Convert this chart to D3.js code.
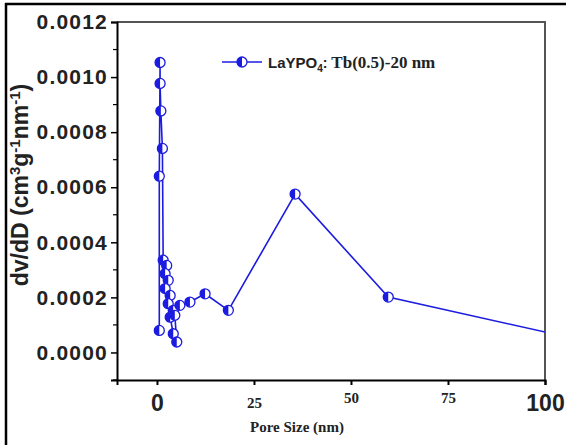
<!DOCTYPE html>
<html>
<head>
<meta charset="utf-8">
<script src="https://cdn.jsdelivr.net/npm/d3@7"></script>
<style>
  body { margin: 0; background: #fff; }
  svg { display: block; }
</style>
</head>
<body>
<div id="chart"></div>
<script>
// pore size distribution
const poreSize = [0.6, 0.6, 0.8, 0.8, 1.0, 1.4, 1.6, 2.5, 2.1, 2.9, 2.1, 3.4, 2.9, 4.2, 3.4, 4.2, 5.1, 4.6, 5.9, 8.5, 12.4, 18.4, 35.6, 59.6, 110];
const dvdD = [0.000080, 0.000640, 0.001053, 0.000977, 0.000877, 0.000741, 0.000335, 0.000316, 0.000286, 0.000262,
              0.000232, 0.000207, 0.000177, 0.000153, 0.000128, 0.000068, 0.000038, 0.000135, 0.000171, 0.000183,
              0.000213, 0.000153, 0.000575, 0.000201, 0.000043];

const xTicks = [0, 25, 50, 75, 100];
const yTicks = [0, 0.0002, 0.0004, 0.0006, 0.0008, 0.0010, 0.0012];
const yMinor = [-0.0001, 0.0001, 0.0003, 0.0005, 0.0007, 0.0009, 0.0011];

const w = 566, h = 445;
const blue = "#1c1ce0";

const svg = d3.select("#chart").append("svg")
  .attr("width", w)
  .attr("height", h);

// outer frame of the figure
svg.append("line").attr("x1", 6).attr("x2", 6).attr("y1", 3).attr("y2", h).attr("stroke", "#000").attr("stroke-width", 2.5);
svg.append("line").attr("x1", 5).attr("x2", w).attr("y1", 4).attr("y2", 4).attr("stroke", "#000").attr("stroke-width", 2.5);

const x = d3.scaleLinear().domain([-10.3, 100]).range([117, 545]);
const y = d3.scaleLinear().domain([-0.0001, 0.0012]).range([380, 22]);

// top / right frame (greyish in the picture)
svg.append("line").attr("x1", 117).attr("x2", 546).attr("y1", 22).attr("y2", 22).attr("stroke", "#555").attr("stroke-width", 2);
svg.append("line").attr("x1", 545).attr("x2", 545).attr("y1", 21).attr("y2", 380).attr("stroke", "#555").attr("stroke-width", 2);

// y axis
const yAxis = svg.append("g")
  .attr("transform", "translate(117,0)")
  .call(d3.axisLeft(y).tickValues(yTicks).tickFormat(d3.format(".4f")).tickSize(6).tickPadding(3));
yAxis.select(".domain").attr("stroke-width", 2);
yAxis.selectAll(".tick line").attr("stroke-width", 1.5);
yAxis.selectAll(".tick text")
  .attr("font-family", "Liberation Sans, Arial, sans-serif")
  .attr("font-weight", "bold")
  .attr("font-size", 21)
  .attr("letter-spacing", 1.2)
  .attr("fill", "#222");

svg.append("g")
  .attr("transform", "translate(117,0)")
  .selectAll("line")
  .data(yMinor)
  .join("line")
  .attr("x1", -4).attr("x2", 0)
  .attr("y1", d => y(d)).attr("y2", d => y(d))
  .attr("stroke", "#000").attr("stroke-width", 1.2);

// x axis
const xAxis = svg.append("g")
  .attr("transform", "translate(0,380)")
  .call(d3.axisBottom(x).tickValues(xTicks).tickSize(5).tickFormat(d => d));
xAxis.select(".domain").attr("stroke-width", 2);
xAxis.selectAll(".tick line").attr("stroke-width", 2);
xAxis.selectAll(".tick text")
  .attr("y", null)
  .attr("dy", null)
  .attr("fill", "#222")
  .attr("font-weight", "bold")
  .each(function(d) {
    const t = d3.select(this);
    if (d === 0 || d === 100) {
      t.attr("font-family", "Liberation Sans, Arial, sans-serif").attr("font-size", 23).attr("y", 31);
    } else {
      t.attr("font-family", "Liberation Serif, Times New Roman, serif").attr("font-size", 15)
       .attr("y", d === 25 ? 28 : 23);
    }
  });

svg.append("text")
  .attr("x", 297).attr("y", 432)
  .attr("text-anchor", "middle")
  .attr("font-family", "Liberation Serif, Times New Roman, serif")
  .attr("font-weight", "bold")
  .attr("font-size", 15)
  .attr("fill", "#222")
  .text("Pore Size (nm)");

// y title
const yt = svg.append("text")
  .attr("transform", "translate(28,185) rotate(-90)")
  .attr("text-anchor", "middle")
  .attr("font-family", "Liberation Sans, Arial, sans-serif")
  .attr("font-weight", "bold")
  .attr("font-size", 23)
  .attr("fill", "#222");
yt.append("tspan").text("dv/dD (cm");
yt.append("tspan").attr("font-size", 15).attr("baseline-shift", "super").text("3");
yt.append("tspan").text("g");
yt.append("tspan").attr("font-size", 15).attr("baseline-shift", "super").text("-1");
yt.append("tspan").text("nm");
yt.append("tspan").attr("font-size", 15).attr("baseline-shift", "super").text("-1");
yt.append("tspan").text(")");

// data
svg.append("clipPath").attr("id", "plot")
  .append("rect").attr("x", 117).attr("y", 22).attr("width", 428).attr("height", 358);

const pts = poreSize.map((p, i) => [p, dvdD[i]]);
const line = d3.line().x(d => x(d[0])).y(d => y(d[1]));

const plot = svg.append("g").attr("clip-path", "url(#plot)");
plot.append("path")
  .datum(pts)
  .attr("d", line)
  .attr("fill", "none")
  .attr("stroke", blue)
  .attr("stroke-width", 1.6);

const r = 5;
const halfLeft = `M0,${-r} A${r},${r} 0 0,0 0,${r} Z`;

function marker(g) {
  g.append("circle").attr("r", r).attr("fill", "#fff").attr("stroke", blue).attr("stroke-width", 1.3);
  g.append("path").attr("d", halfLeft).attr("fill", blue);
}

plot.selectAll("g.pt")
  .data(pts)
  .join("g")
  .attr("class", "pt")
  .attr("transform", d => `translate(${x(d[0])},${y(d[1])})`)
  .each(function() { marker(d3.select(this)); });

// legend
const lg = svg.append("g").attr("transform", "translate(222,62)");
lg.append("line").attr("x1", 0).attr("x2", 40).attr("y1", 0).attr("y2", 0).attr("stroke", blue).attr("stroke-width", 1.6);
marker(lg.append("g").attr("transform", "translate(20,0)"));

const lt = lg.append("text")
  .attr("x", 46).attr("y", 6)
  .attr("font-weight", "bold")
  .attr("fill", "#222");
lt.append("tspan").attr("font-family", "Liberation Sans, Arial, sans-serif").attr("font-size", 15).text("LaYPO");
lt.append("tspan").attr("font-family", "Liberation Sans, Arial, sans-serif").attr("font-size", 10).attr("dy", 4).text("4");
lt.append("tspan").attr("font-family", "Liberation Sans, Arial, sans-serif").attr("font-size", 14).attr("dy", -4).text(":");
lt.append("tspan").attr("font-family", "Liberation Serif, Times New Roman, serif").attr("font-size", 17).text(" Tb(0.5)-20 nm");
</script>
</body>
</html>
